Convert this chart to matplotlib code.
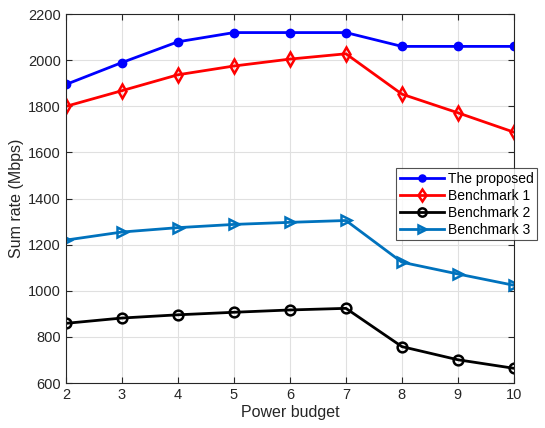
import numpy as np
import matplotlib.pyplot as plt

plt.rcParams['font.family'] = ['Liberation Sans', 'DejaVu Sans']

# power budget values
power = [2, 3, 4, 5, 6, 7, 8, 9, 10]

# sum rate (Mbps) for each scheme
proposed = [1895, 1990, 2080, 2120, 2120, 2120, 2060, 2060, 2060]
bench1 = [1800, 1868, 1937, 1975, 2005, 2028, 1853, 1772, 1688]
bench2 = [859, 882, 896, 907, 917, 924, 758, 701, 664]
bench3 = [1220, 1255, 1274, 1288, 1297, 1305, 1124, 1073, 1024]

labels = ['The proposed', 'Benchmark 1', 'Benchmark 2', 'Benchmark 3']

fig = plt.figure(figsize=(5.45, 4.28), dpi=100)
ax = fig.add_axes([0.121, 0.105, 0.822, 0.862])

mblue = (0, 0.447, 0.741)
ax.plot(power, proposed, '-o', color='b', lw=2, ms=6, mfc='b', label=labels[0])
ax.plot(power, bench1, '-d', color='r', lw=2, ms=7, mfc='none', mew=1.8, label=labels[1])
ax.plot(power, bench2, '-o', color='k', lw=2, ms=7, mfc='none', mew=1.8, label=labels[2])
ax.plot(power, bench3, '->', color=mblue, lw=2, ms=7.5, mfc='none', mew=1.8, label=labels[3])

ax.set_xlim(2, 10)
ax.set_ylim(600, 2200)
ax.set_xticks(power)
ax.set_yticks(np.arange(600, 2201, 200))
ax.grid(True, color=(0.88, 0.88, 0.88), lw=0.8)
ax.set_axisbelow(True)
ax.tick_params(direction='in', labelsize=10.5, colors=(0.15, 0.15, 0.15), length=4, top=True, right=True)
for s in ax.spines.values():
    s.set_color((0.15, 0.15, 0.15))
    s.set_linewidth(0.8)

ax.set_xlabel('Power budget', fontsize=11.5, color=(0.15, 0.15, 0.15), labelpad=2)
ax.set_ylabel('Sum rate (Mbps)', fontsize=11.5, color=(0.15, 0.15, 0.15), labelpad=3)

leg = ax.legend(loc='upper right', bbox_to_anchor=(0.986, 0.607), bbox_transform=fig.transFigure,
                fontsize=10, frameon=True, fancybox=False, edgecolor=(0.15, 0.15, 0.15),
                borderpad=0.25, labelspacing=0.22, handlelength=3.2, handletextpad=0.3,
                borderaxespad=0, markerscale=0.85)
leg.get_frame().set_linewidth(0.8)

fig.savefig('out.png', dpi=100)
